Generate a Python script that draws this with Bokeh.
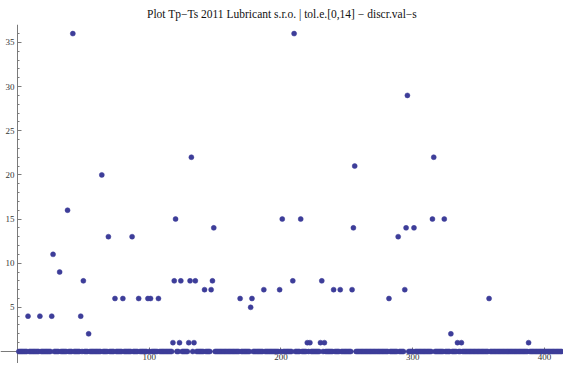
from bokeh.plotting import figure
from bokeh.models import Range1d, LinearAxis, FixedTicker
from bokeh.embed import file_html
from bokeh.resources import INLINE

TITLE = "Plot Tp\u2212Ts 2011 Lubricant s.r.o. | tol.e.[0,14] \u2212 discr.val\u2212s"

values = [
    0, 0, 0, 0, 0, 0, 0, 4, 0, 0, 0, 0, 0, 0, 0, 0, 4, 0, 0, 0,
    0, 0, 0, 0, 0, 4, 11, 0, 0, 0, 0, 9, 0, 0, 0, 0, 0, 16, 0, 0,
    0, 36, 0, 0, 0, 0, 0, 4, 0, 8, 0, 0, 0, 2, 0, 0, 0, 0, 0, 0,
    0, 0, 0, 20, 0, 0, 0, 0, 13, 0, 0, 0, 0, 6, 0, 0, 0, 0, 0, 6,
    0, 0, 0, 0, 0, 0, 13, 0, 0, 0, 0, 6, 0, 0, 0, 0, 0, 0, 6, 0,
    6, 0, 0, 0, 0, 0, 6, 0, 0, 0, 0, 0, 0, 0, 0, 0, 0, 1, 8, 15,
    0, 0, 1, 8, 0, 0, 0, 0, 0, 1, 8, 22, 0, 1, 8, 0, 0, 0, 0, 0,
    0, 7, 0, 0, 0, 0, 7, 8, 14, 0, 0, 0, 0, 0, 0, 0, 0, 0, 0, 0,
    0, 0, 0, 0, 0, 0, 0, 0, 6, 0, 0, 0, 0, 0, 0, 0, 5, 6, 0, 0,
    0, 0, 0, 0, 0, 0, 7, 0, 0, 0, 0, 0, 0, 0, 0, 0, 0, 0, 7, 0,
    15, 0, 0, 0, 0, 0, 0, 0, 8, 36, 0, 0, 0, 0, 15, 0, 0, 0, 0, 1,
    0, 1, 0, 0, 0, 0, 0, 0, 0, 1, 8, 0, 1, 0, 0, 0, 0, 0, 0, 7,
    0, 0, 0, 0, 7, 0, 0, 0, 0, 0, 0, 0, 0, 7, 14, 21, 0, 0, 0, 0,
    0, 0, 0, 0, 0, 0, 0, 0, 0, 0, 0, 0, 0, 0, 0, 0, 0, 0, 0, 0,
    0, 6, 0, 0, 0, 0, 0, 0, 13, 0, 0, 0, 0, 7, 14, 29, 0, 0, 0, 0,
    14, 0, 0, 0, 0, 0, 0, 0, 0, 0, 0, 0, 0, 0, 15, 22, 0, 0, 0, 0,
    0, 0, 0, 15, 0, 0, 0, 0, 2, 0, 0, 0, 0, 1, 0, 0, 1, 0, 0, 0,
    0, 0, 0, 0, 0, 0, 0, 0, 0, 0, 0, 0, 0, 0, 0, 0, 0, 6, 0, 0,
    0, 0, 0, 0, 0, 0, 0, 0, 0, 0, 0, 0, 0, 0, 0, 0, 0, 0, 0, 0,
    0, 0, 0, 0, 0, 0, 0, 1, 0, 0, 0, 0, 0, 0, 0, 0, 0, 0, 0, 0,
    0, 0, 0, 0, 0, 0, 0, 0, 0, 0, 0, 0, 0,
]
index = list(range(1, len(values) + 1))

x_major = [100, 200, 300, 400]
x_minor = [20, 40, 60, 80, 120, 140, 160, 180, 220, 240, 260, 280,
           320, 340, 360, 380, 400]
y_major = [5, 10, 15, 20, 25, 30, 35]
y_minor = list(range(1, 37))

DOT = "#3d3d99"
AXIS = "#7a7a7a"
LABEL = "#333333"
SERIF = "Liberation Serif"

p = figure(width=563, height=363, output_backend="svg", toolbar_location=None,
           x_range=Range1d(-12.9, 414.5), y_range=Range1d(-1.36, 37.03),
           x_axis_type=None, y_axis_type=None, min_border=0,
           title=TITLE)
p.outline_line_color = None
p.background_fill_color = "white"
p.border_fill_color = "white"
p.title.text_font = SERIF
p.title.text_font_size = "11.5px"
p.title.text_font_style = "normal"
p.title.text_color = "#111111"
p.title.align = "center"
p.title.standoff = 10

xa = LinearAxis(fixed_location=0, ticker=FixedTicker(ticks=x_major, minor_ticks=x_minor))
ya = LinearAxis(fixed_location=0, ticker=FixedTicker(ticks=y_major, minor_ticks=y_minor))
for ax in (xa, ya):
    ax.axis_line_color = AXIS
    ax.axis_line_width = 1
    ax.major_tick_line_color = AXIS
    ax.minor_tick_line_color = AXIS
    ax.major_tick_in = 4
    ax.major_tick_out = 0
    ax.minor_tick_in = 2
    ax.minor_tick_out = 0
    ax.major_label_text_font = SERIF
    ax.major_label_text_font_size = "9px"
    ax.major_label_text_color = LABEL
    ax.major_label_standoff = 3
p.add_layout(xa, "below")
p.add_layout(ya, "left")

r = p.scatter(index, values, size=5, fill_color=DOT, line_color=DOT, line_width=0.5)
r.level = "overlay"

open("out.html", "w").write(file_html(p, INLINE))
